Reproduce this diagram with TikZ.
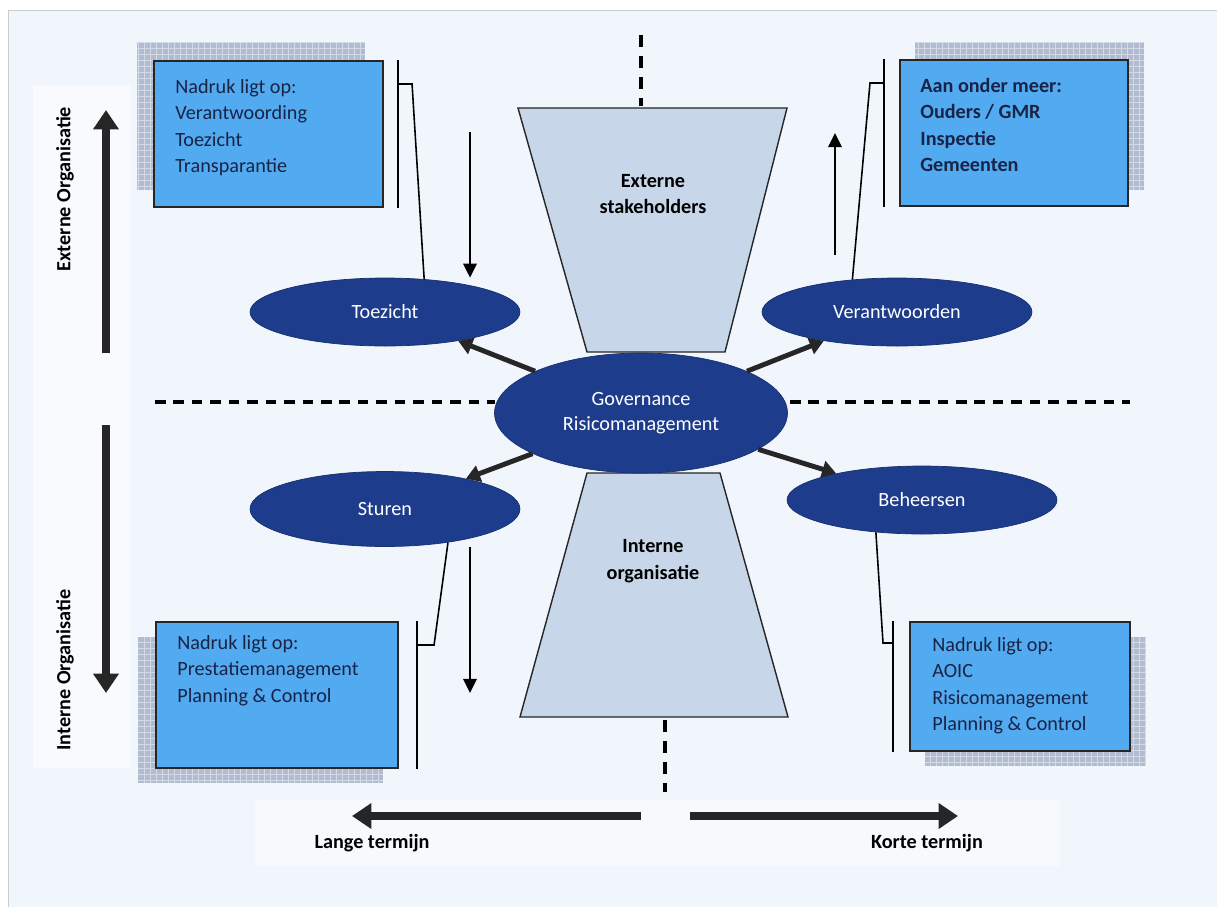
\documentclass[tikz,border=0pt]{standalone}
\usepackage{fontspec}
\setmainfont{Carlito}
\usepackage{tikz}
\usetikzlibrary{positioning,arrows.meta,shapes.geometric}
\definecolor{pagebg}{RGB}{241,246,252}
\definecolor{boxblue}{RGB}{82,170,240}
\definecolor{navy}{RGB}{30,60,140}
\definecolor{funnelblue}{RGB}{200,214,234}
\definecolor{gridgrey}{RGB}{178,188,208}
\definecolor{inktext}{RGB}{25,35,70}
\tikzset{%
  role/.style={
    ellipse,
    draw=navy!80!black,
    fill=navy,
    text=white,
    minimum width=5.4cm,
    minimum height=1.36cm,
    font=\fontsize{11.5}{13}\selectfont
  },
  infobox/.style={
    draw=black!85,
    very thick,
    fill=boxblue,
    inner sep=0pt
  },
  infotext/.style={
    anchor=north west,
    inner sep=0pt,
    align=left,
    text=inktext,
    font=\fontsize{11.5}{15}\selectfont
  },
  shadowgrid/.style={
    fill=gridgrey,
    path picture={
      \draw[white, opacity=0.45, line width=0.3pt, step=0.12cm]
        (path picture bounding box.south west) grid (path picture bounding box.north east);
    }
  },
  funnel/.style={draw=black!85, thick, fill=funnelblue},
  funneltext/.style={align=center, font=\bfseries\fontsize{11.5}{15.3}\selectfont},
  divider/.style={line width=2pt, dash pattern=on 6pt off 4.5pt},
  bracket/.style={line width=1pt},
  callout/.style={line width=0.9pt},
  thinarrow/.style={line width=1.5pt, -{Triangle[length=8pt, width=7.5pt]}},
  midarrow/.style={line width=2.8pt, -{Triangle[length=8pt, width=9.5pt]}, black!85},
  bigarrow/.style={line width=4.6pt, -{Triangle[length=11pt, width=14pt]}, black!85},
  sidelabel/.style={font=\bfseries\fontsize{11.5}{14}\selectfont}
}

\begin{document}
\begin{tikzpicture}[x=0.02cm, y=-0.02cm]
\useasboundingbox (0,0) rectangle (1217,907);
\fill[white] (0,0) rectangle (1217,907);
\fill[pagebg] (8,10) rectangle (1217,907);
\draw[black!20, line width=0.4pt] (8,907) -- (8,10) -- (1217,10);
\fill[white, opacity=0.5] (33,85) rectangle (130,768);
\fill[white, opacity=0.45] (255,800) rectangle (1060,866);

% shadows behind the boxes
\fill[shadowgrid] (137,42) rectangle (365,190);
\fill[shadowgrid] (915,42) rectangle (1144,190);
\fill[shadowgrid] (138,637) rectangle (383,783);
\fill[shadowgrid] (925,637) rectangle (1146,766);

\node[infobox, anchor=north west, minimum width=4.58cm, minimum height=2.92cm] (tl) at (153,60) {};
\node[infobox, anchor=north west, minimum width=4.56cm, minimum height=2.92cm] (tr) at (899,59) {};
\node[infobox, anchor=north west, minimum width=4.84cm, minimum height=2.92cm] (bl) at (155,621) {};
\node[infobox, anchor=north west, minimum width=4.40cm, minimum height=2.58cm] (br) at (909,621) {};

\node[infotext] (tltext) at (175,79) {Nadruk ligt op:\\Verantwoording\\Toezicht\\Transparantie};
\node[infotext, font=\bfseries\fontsize{11.5}{15}\selectfont] (trtext) at (920,78) {Aan onder meer:\\Ouders / GMR\\Inspectie\\Gemeenten};
\node[infotext] (bltext) at (177,635) {Nadruk ligt op:\\Prestatiemanagement\\Planning \& Control};
\node[infotext] (brtext) at (932,637) {Nadruk ligt op:\\AOIC\\Risicomanagement\\Planning \& Control};

% dividers
\draw[divider, line width=2.4pt, dash pattern=on 7pt off 5pt] (641,35) -- (641,106);
\draw[divider, line width=2.4pt, dash pattern=on 7pt off 5pt] (665,720) -- (665,792);
\draw[divider] (155,402) -- (495,402);
\draw[divider] (790,402) -- (1130,402);

\draw[funnel] (518,108) -- (787,108) -- (725,352) -- (587,352) -- cycle;
\draw[funnel] (587,473) -- (720,473) -- (788,717) -- (520,717) -- cycle;
\node[funneltext] (extern) at (653,194) {Externe\\stakeholders};
\node[funneltext] (intern) at (653,561) {Interne\\organisatie};

\node[role] (toezicht) at (385,312) {Toezicht};
\node[role] (verant) at (897,312) {Verantwoorden};
\node[role, minimum height=1.5cm] (sturen) at (385,509) {Sturen};
\node[role] (beheer) at (922,500) {Beheersen};
\node[role, minimum width=5.86cm, minimum height=2.4cm, align=center,
      font=\fontsize{11.5}{14.5}\selectfont] (gov) at (641,413) {Governance\\Risicomanagement};

\foreach \target in {toezicht, verant, sturen, beheer}
    \draw[midarrow] (gov) -- (\target);

% brackets and callouts
\draw[bracket] ([xshift=0.28cm]tl.north east) -- ([xshift=0.28cm]tl.south east);
\draw[bracket] ([xshift=-0.3cm]tr.north west) -- ([xshift=-0.3cm]tr.south west);
\draw[bracket] ([xshift=0.36cm]bl.north east) -- ([xshift=0.36cm]bl.south east);
\draw[bracket] ([xshift=-0.32cm]br.north west) -- ([xshift=-0.32cm]br.south west);
\draw[callout] ([xshift=0.28cm, yshift=-0.48cm]tl.north east) -- ++(14,0) -- (toezicht.40);
\draw[callout] ([xshift=-0.3cm, yshift=-0.48cm]tr.north west) -- ++(-14,0) -- (verant.144);
\draw[callout] ([xshift=0.36cm, yshift=-0.48cm]bl.north east) -- ++(17,0) -- (sturen.-28);
\draw[callout] ([xshift=-0.32cm, yshift=-0.44cm]br.north west) -- ++(-10,0) -- (beheer.215);

\coordinate (tzstart) at (470,132);
\coordinate (vaend) at (835,133);
\coordinate (ststart) at (470,547);
\draw[thinarrow] (tzstart) -- (tzstart |- toezicht.north);
\draw[thinarrow] (835,255) -- (vaend);
\draw[thinarrow] (ststart) -- (470,693);

% axes
\draw[bigarrow] (106,353) -- (106,110);
\draw[bigarrow] (106,425) -- (106,693);
\draw[bigarrow] (641,816) -- (352,816);
\draw[bigarrow] (690,816) -- (958,816);
\node[sidelabel, rotate=90] (extorg) at (65,189) {Externe Organisatie};
\node[sidelabel, rotate=90] (intorg) at (65,670) {Interne Organisatie};
\node[sidelabel] (lang) at (372,843) {Lange termijn};
\node[sidelabel] (kort) at (927,843) {Korte termijn};
\end{tikzpicture}
\end{document}
